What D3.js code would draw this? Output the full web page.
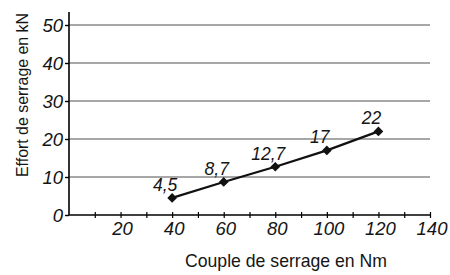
<!DOCTYPE html>
<html>
<head>
<meta charset="utf-8">
<script src="https://cdn.jsdelivr.net/npm/d3@7"></script>
<style>
  body { margin: 0; background: #fff; }
  text { font-family: "Liberation Sans", Arial, sans-serif; }
</style>
</head>
<body>
<div id="chart-area"></div>
<script>
const couple = [40, 60, 80, 100, 120]
const effort = [4.5, 8.7, 12.7, 17, 22]
const pointLabels = ["4,5", "8,7", "12,7", "17", "22"]
const xTickValues = [20, 40, 60, 80, 100, 120, 140]
const yTickValues = [0, 10, 20, 30, 40, 50]

const W = 450, H = 275
const MARGIN = { LEFT: 69, RIGHT: 20, TOP: 25, BOTTOM: 60 }

const svg = d3.select("#chart-area").append("svg")
  .attr("width", W)
  .attr("height", H)

const x = d3.scaleLinear().domain([0, 140]).range([MARGIN.LEFT, 430])
const y = d3.scaleLinear().domain([0, 50]).range([215, 25])

// grid lines
svg.append("g")
  .selectAll("line")
  .data(yTickValues.filter(d => d > 0))
  .join("line")
  .attr("x1", x(0))
  .attr("x2", x(140))
  .attr("y1", d => y(d))
  .attr("y2", d => y(d))
  .attr("stroke", "#8a8a8a")
  .attr("stroke-width", 1.6)

// y axis
const yAxis = svg.append("g")
  .attr("transform", `translate(${x(0)},0)`)
  .call(d3.axisLeft(y).tickValues(yTickValues).tickSize(4).tickPadding(2))
yAxis.select(".domain").remove()
yAxis.selectAll(".tick line").attr("stroke", "#000").attr("stroke-width", 1.4)
yAxis.selectAll(".tick text")
  .attr("font-size", 18.5)
  .attr("font-style", "italic")
  .attr("font-family", "Liberation Sans, Arial, sans-serif")
  .attr("fill", "#151515")
  .attr("dy", "0.36em")

svg.append("line")
  .attr("x1", x(0)).attr("x2", x(0))
  .attr("y1", 12).attr("y2", y(0))
  .attr("stroke", "#000").attr("stroke-width", 1.6)

// x axis
const xAxis = svg.append("g")
  .attr("transform", `translate(0,${y(0)})`)
  .call(d3.axisBottom(x).tickValues(d3.range(10, 150, 10)).tickSize(3).tickFormat(""))
xAxis.select(".domain").remove()
xAxis.selectAll(".tick line")
  .attr("y1", -3)
  .attr("stroke", "#000").attr("stroke-width", 1.2)

svg.append("line")
  .attr("x1", x(0)).attr("x2", x(140))
  .attr("y1", y(0)).attr("y2", y(0))
  .attr("stroke", "#000").attr("stroke-width", 1.6)

svg.append("g")
  .selectAll("text")
  .data(xTickValues)
  .join("text")
  .attr("x", d => x(d) + 2)
  .attr("y", y(0) + 20)
  .attr("text-anchor", "middle")
  .attr("font-size", 18.5)
  .attr("font-style", "italic")
  .attr("fill", "#151515")
  .text(d => d)

// data line
const pts = couple.map((c, i) => ({ c: c, e: effort[i], label: pointLabels[i] }))

svg.append("path")
  .datum(pts)
  .attr("fill", "none")
  .attr("stroke", "#111")
  .attr("stroke-width", 2.2)
  .attr("d", d3.line().x(d => x(d.c)).y(d => y(d.e)))

svg.append("g")
  .selectAll("path")
  .data(pts)
  .join("path")
  .attr("transform", d => `translate(${x(d.c)},${y(d.e)})`)
  .attr("d", d3.symbol(d3.symbolDiamond2, 60))
  .attr("fill", "#111")

svg.append("g")
  .selectAll("text")
  .data(pts)
  .join("text")
  .attr("x", d => x(d.c) - 7)
  .attr("y", d => y(d.e) - 7)
  .attr("text-anchor", "middle")
  .attr("font-size", 17.5)
  .attr("font-style", "italic")
  .attr("fill", "#151515")
  .text(d => d.label)

// axis titles
svg.append("text")
  .attr("x", 286)
  .attr("y", 267)
  .attr("text-anchor", "middle")
  .attr("font-size", 19)
  .attr("textLength", 202)
  .attr("lengthAdjust", "spacingAndGlyphs")
  .attr("fill", "#151515")
  .text("Couple de serrage en Nm")

svg.append("text")
  .attr("transform", "translate(28,95) rotate(-90)")
  .attr("text-anchor", "middle")
  .attr("font-size", 17)
  .attr("textLength", 164)
  .attr("lengthAdjust", "spacingAndGlyphs")
  .attr("fill", "#151515")
  .text("Effort de serrage en kN")
</script>
</body>
</html>
